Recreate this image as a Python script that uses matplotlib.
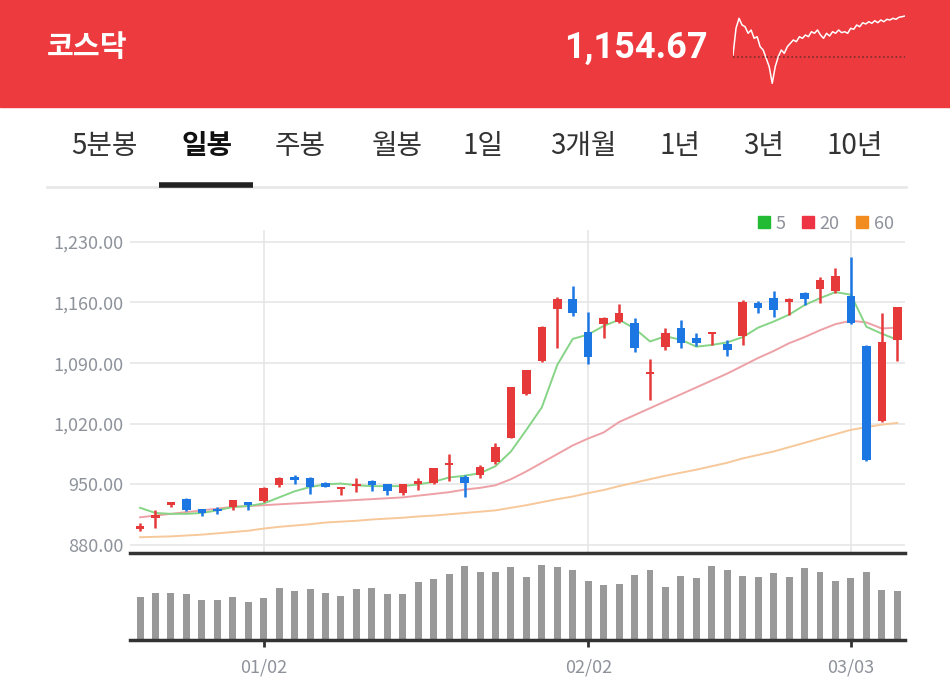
import matplotlib
matplotlib.use('Agg')
import matplotlib.pyplot as plt
from matplotlib.lines import Line2D
from matplotlib.patches import Rectangle

plt.rcParams['font.family'] = ['Noto Sans CJK KR', 'DejaVu Sans']

# 코스닥 일봉 (50 거래일)
opens = [899, 911, 926, 933, 922, 921, 924, 930, 931, 949,
         958, 957, 952, 945, 948, 954, 950, 940, 950, 952,
         972, 958, 961, 976, 1004, 1054, 1092, 1152, 1164, 1126,
         1135, 1138, 1136, 1077, 1109, 1130, 1119, 1124, 1112, 1121,
         1159, 1165, 1160, 1171, 1176, 1173, 1168, 1110, 1023, 1117]
highs = [906, 920, 930, 934, 922, 924, 932, 930, 947, 958,
         961, 958, 953, 947, 957, 955, 951, 951, 957, 969,
         985, 961, 972, 998, 1063, 1082, 1133, 1166, 1179, 1149,
         1143, 1158, 1142, 1095, 1130, 1140, 1125, 1126, 1117, 1163,
         1162, 1173, 1165, 1172, 1190, 1200, 1213, 1111, 1148, 1155]
lows = [896, 900, 924, 919, 914, 916, 920, 921, 930, 947,
        951, 939, 947, 938, 941, 942, 938, 938, 943, 950,
        954, 935, 957, 974, 1003, 1053, 1091, 1107, 1144, 1089,
        1119, 1136, 1103, 1047, 1105, 1108, 1110, 1111, 1098, 1111,
        1148, 1143, 1146, 1157, 1159, 1171, 1135, 977, 1022, 1092]
closes = [902, 915, 930, 920, 917, 919, 932, 926, 946, 957,
          955, 947, 947, 947, 950, 949, 942, 950, 954, 969,
          975, 952, 970, 993, 1062, 1082, 1132, 1164, 1148, 1097,
          1142, 1148, 1107, 1080, 1125, 1113, 1113, 1126, 1105, 1161,
          1154, 1151, 1164, 1164, 1186, 1191, 1136, 978, 1114, 1154.67]

ma5 = [923, 917, 916, 916, 917, 920, 924, 925, 928, 935,
       942, 947, 950, 951, 949, 948, 948, 948, 950, 953,
       958, 960, 963, 971, 988, 1013, 1039, 1088, 1118, 1123,
       1133, 1140, 1130, 1115, 1121, 1117, 1109, 1111, 1114, 1120,
       1131, 1138, 1146, 1157, 1165, 1172, 1169, 1132, 1124, 1117]
ma20 = [912, 914, 916, 918, 920, 922, 924, 925, 926, 927,
        928, 929, 930, 931, 932, 933, 934, 935, 937, 939,
        941, 944, 946, 949, 956, 965, 975, 985, 995, 1003,
        1010, 1022, 1030, 1038, 1046, 1054, 1062, 1070, 1078, 1087,
        1096, 1104, 1113, 1120, 1128, 1135, 1139, 1137, 1130, 1131]
ma60 = [889, 889.5, 890, 891, 892, 893.5, 895, 896.5, 899, 901,
        902.5, 904, 906, 907, 908, 909.5, 910.5, 911.5, 913, 914,
        915.5, 917, 918.5, 920, 923, 926, 929.5, 933, 936, 940,
        943.5, 948, 952, 956, 960, 963.5, 967, 971, 975, 980,
        984, 988, 993, 998, 1003, 1008, 1013, 1016, 1019, 1021]
volume = [43, 47, 47, 46, 40, 40, 43, 38, 42, 52,
          49, 51, 47, 44, 51, 52, 46, 46, 58, 61,
          66, 74, 68, 68, 73, 63, 75, 73, 70, 59,
          55, 56, 65, 70, 53, 64, 62, 74, 70, 64,
          63, 67, 63, 72, 68, 59, 62, 68, 50, 49]

tick_idx = [8, 29, 46]
tick_labels = ['01/02', '02/02', '03/03']
y_ticks = [880, 950, 1020, 1090, 1160, 1230]
tabs = ['5분봉', '일봉', '주봉', '월봉', '1일', '3개월', '1년', '3년', '10년']
tab_x = [104, 207, 300, 397, 483, 583, 680, 764, 855]
active_tab = 1
index_name = '코스닥'
last_price = 1154.67

# 헤더 미니차트
spark = [45, 71.7, 81.7, 75, 73.3, 66.7, 70, 61.7, 63.3, 53.3,
         50, 41.7, 33.3, 16.7, 33.3, 43.3, 50, 46.7, 53.3, 56.7,
         60, 58.3, 63.3, 61.7, 65, 63.3, 68.3, 66.7, 70, 65,
         61.7, 66.7, 64, 68.3, 66.7, 70, 67.3, 68.3, 66.7, 71.7,
         70.7, 75, 73.3, 77.3, 76, 78.3, 76.7, 79.3, 77.3, 80,
         78.3, 80.7, 80, 81.7, 80.7, 82.7, 83.3, 84]
spark_base = 43

RED = '#E5393A'
BLUE = '#1C77E3'
GRID = '#E6E6E6'
LABEL = '#8E939B'

W, H = 950, 691
fig = plt.figure(figsize=(W / 100, H / 100), dpi=100)


def px_axes(x0, y0, x1, y1, **kw):
    return fig.add_axes([x0 / W, 1 - y1 / H, (x1 - x0) / W, (y1 - y0) / H], **kw)


# 배경 / 헤더 / 탭
bg = px_axes(0, 0, W, H)
bg.set_xlim(0, W)
bg.set_ylim(H, 0)
bg.axis('off')
bg.add_patch(Rectangle((0, 0), W, 107, color='#EC3A3E'))
bg.plot([47, 906], [187, 187], color='#E8E8E8', lw=2)
bg.plot([159, 253], [185, 185], color='#222222', lw=4, solid_capstyle='butt')

fig.text(47 / W, 1 - 47 / H, index_name, color='white', fontsize=21,
         fontweight='bold', va='center', ha='left')
fig.text(708 / W, 1 - 48 / H, f'{last_price:,.2f}', color='white', fontsize=26,
         fontweight='bold', va='center', ha='right', family=['Roboto', 'DejaVu Sans'])

for i, (t, tx) in enumerate(zip(tabs, tab_x)):
    fig.text(tx / W, 1 - 146 / H, t, ha='center', va='center', fontsize=20,
             color='#111111' if i == active_tab else '#333333',
             fontweight='bold' if i == active_tab else 'medium')

sp = px_axes(733, 10, 905, 90)
sp.patch.set_alpha(0)
sp.plot(range(len(spark)), spark, color='white', lw=1.1)
sp.axhline(spark_base, color='#7A2E30', lw=1.2, ls=(0, (1, 1.5)))
sp.set_xlim(0, len(spark) - 1)
sp.set_ylim(10, 90)
sp.axis('off')

# 캔들 차트
x = list(range(len(closes)))
ax = px_axes(130, 230, 905, 553)
ax.patch.set_alpha(0)
ax.plot(x, ma60, color='#F6C89A', lw=1.4, zorder=2)
ax.plot(x, ma20, color='#EDA1A6', lw=1.4, zorder=2)
ax.plot(x, ma5, color='#86D486', lw=1.4, zorder=2)
for i in x:
    o, h, l, c = opens[i], highs[i], lows[i], closes[i]
    col = RED if c >= o else BLUE
    ax.vlines(i, l, h, color=col, lw=1.8, zorder=3)
    ax.bar(i, max(abs(c - o), 2.5), bottom=min(o, c), width=0.55,
           color=col, zorder=3)

ax.set_xlim(-0.65, 49.5)
ax.set_ylim(870.8, 1243.7)
ax.set_yticks(y_ticks)
ax.set_yticklabels([f'{v:,.2f}' for v in y_ticks])
ax.set_xticks(tick_idx)
ax.set_xticklabels([])
ax.tick_params(axis='y', length=0, pad=5, labelsize=13, labelcolor=LABEL)
ax.tick_params(axis='x', length=0)
ax.grid(True, color=GRID, lw=1.2)
ax.set_axisbelow(True)
for s in ['top', 'left', 'right']:
    ax.spines[s].set_visible(False)
ax.spines['bottom'].set_color('#333333')
ax.spines['bottom'].set_linewidth(2.5)

handles = [Line2D([], [], marker='s', ls='none', color=c, markersize=9)
           for c in ['#22BB33', '#EE3344', '#F28C1E']]
ax.legend(handles, ['5', '20', '60'], ncol=3, loc='center right',
          bbox_to_anchor=(0.995, 1.02), frameon=False, fontsize=13,
          labelcolor=LABEL, handlelength=0.7, handletextpad=0.3,
          columnspacing=0.9, borderaxespad=0)

# 거래량
vx = px_axes(130, 553, 905, 640)
vx.patch.set_alpha(0)
vx.bar(x, volume, width=0.45, color='#999999')
vx.set_xlim(-0.65, 49.5)
vx.set_ylim(0, 87)
vx.set_yticks([])
vx.set_xticks(tick_idx)
vx.set_xticklabels(tick_labels)
vx.tick_params(axis='x', length=5, width=2, color='#333333', pad=8,
               labelsize=13, labelcolor=LABEL)
for s in ['top', 'left', 'right']:
    vx.spines[s].set_visible(False)
vx.spines['bottom'].set_color('#333333')
vx.spines['bottom'].set_linewidth(2.5)

fig.savefig('out.png', dpi=100)
